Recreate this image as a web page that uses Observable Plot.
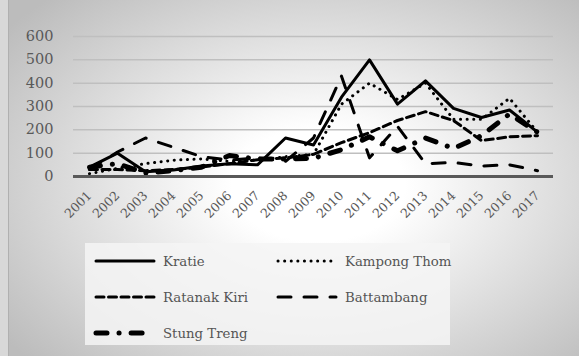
<!DOCTYPE html>
<html>
<head>
<meta charset="utf-8">
<script src="https://cdn.jsdelivr.net/npm/d3@7"></script>
<script src="https://cdn.jsdelivr.net/npm/@observablehq/plot@0.6"></script>
<style>
  html, body { margin: 0; padding: 0; }
  #wrap {
    position: relative; width: 579px; height: 356px; overflow: hidden;
    background: radial-gradient(ellipse 68% 72% at 55% 52%, #ffffff 0%, #ffffff 22%, #bcbcbc 100%);
    font-family: "DejaVu Serif", serif;
  }
  #edge { position: absolute; left: 0; top: 0; width: 8px; height: 356px; background: #d8d8d8; border-right: 1px solid #b0b0b0; }
  #chart { position: absolute; left: 0; top: 0; }
  #legend {
    position: absolute; left: 85px; top: 243px; width: 365px; height: 102px;
    background: rgba(244,244,244,0.85);
  }
  .item { position: absolute; display: flex; align-items: center; font-size: 13.3px; color: #555; white-space: nowrap; }
  .item svg { margin-right: 6px; }
</style>
</head>
<body>
<div id="wrap">
  <div id="edge"></div>
  <div id="chart"></div>
  <div id="legend"></div>
</div>
<script>
const years = ["2001","2002","2003","2004","2005","2006","2007","2008","2009","2010","2011","2012","2013","2014","2015","2016","2017"];
const yTicks = [0, 100, 200, 300, 400, 500, 600];
const seriesNames = ["Kratie", "Kampong Thom", "Ratanak Kiri", "Battambang", "Stung Treng"];

const kratie      = [40, 100, 20, 28, 45, 55, 50, 165, 135, 340, 500, 310, 410, 292, 253, 285, 190];
const kampongThom = [12, 35, 55, 70, 75, 65, 70, 85, 95, 310, 400, 330, 400, 245, 245, 335, 190];
const ratanakKiri = [30, 30, 25, 30, 40, 55, 72, 80, 95, 145, 188, 240, 278, 240, 154, 170, 175];
const battambang  = [30, 105, 165, 125, 85, 70, 80, 65, 165, 430, 80, 215, 55, 60, 45, 50, 25];
const stungTreng  = [40, 55, 15, 25, 40, 90, 75, 75, 78, 115, 170, 110, 165, 120, 175, 268, 190];

const values = [kratie, kampongThom, ratanakKiri, battambang, stungTreng];
const styles = [
  {strokeWidth: 3, strokeDasharray: null},
  {strokeWidth: 3, strokeDasharray: "0.1 6.5"},
  {strokeWidth: 3, strokeDasharray: "8 4.5"},
  {strokeWidth: 3, strokeDasharray: "13 13"},
  {strokeWidth: 5, strokeDasharray: "11 12 0.1 12"}
];

const data = seriesNames.flatMap((s, i) => years.map((y, j) => ({series: s, year: y, value: values[i][j]})));

const lineMarks = seriesNames.map((s, i) => Plot.line(data.filter(d => d.series === s), {
  x: "year", y: "value", stroke: "black",
  strokeWidth: styles[i].strokeWidth,
  strokeDasharray: styles[i].strokeDasharray,
  strokeLinecap: "round", strokeLinejoin: "round"
}));

const chart = Plot.plot({
  width: 579, height: 228,
  marginLeft: 73, marginRight: 26, marginTop: 36, marginBottom: 52,
  style: {background: "transparent", fontFamily: "'DejaVu Serif', serif", fontSize: "13px", color: "#595959"},
  x: {type: "point", domain: years, padding: 0.5},
  y: {domain: [0, 600]},
  marks: [
    Plot.ruleY(yTicks.filter(t => t > 0), {stroke: "#bfbfbf", strokeWidth: 1.5}),
    Plot.axisY({ticks: yTicks, tickSize: 0, tickPadding: 20, label: null, fontSize: 14.5, fill: "#595959"}),
    Plot.axisX({tickRotate: -45, tickSize: 0, tickPadding: 17, label: null, fontSize: 12.5, fill: "#595959"}),
    ...lineMarks,
    Plot.ruleY([0], {stroke: "#595959", strokeWidth: 3})
  ]
});
document.getElementById("chart").appendChild(chart);

// legend
const legend = document.getElementById("legend");
const pos = [[8, 18], [190, 18], [8, 54], [190, 54], [8, 90]];
seriesNames.forEach((s, i) => {
  const div = document.createElement("div");
  div.className = "item";
  div.style.left = pos[i][0] + "px";
  div.style.top = (pos[i][1] - 10) + "px";
  div.style.height = "20px";
  const svg = d3.create("svg").attr("width", 64).attr("height", 10);
  svg.append("line").attr("x1", 3).attr("x2", 61).attr("y1", 5).attr("y2", 5)
    .attr("stroke", "black").attr("stroke-width", styles[i].strokeWidth)
    .attr("stroke-dasharray", styles[i].strokeDasharray)
    .attr("stroke-linecap", "round");
  div.appendChild(svg.node());
  const span = document.createElement("span");
  span.textContent = s;
  div.appendChild(span);
  legend.appendChild(div);
});
</script>
</body>
</html>
